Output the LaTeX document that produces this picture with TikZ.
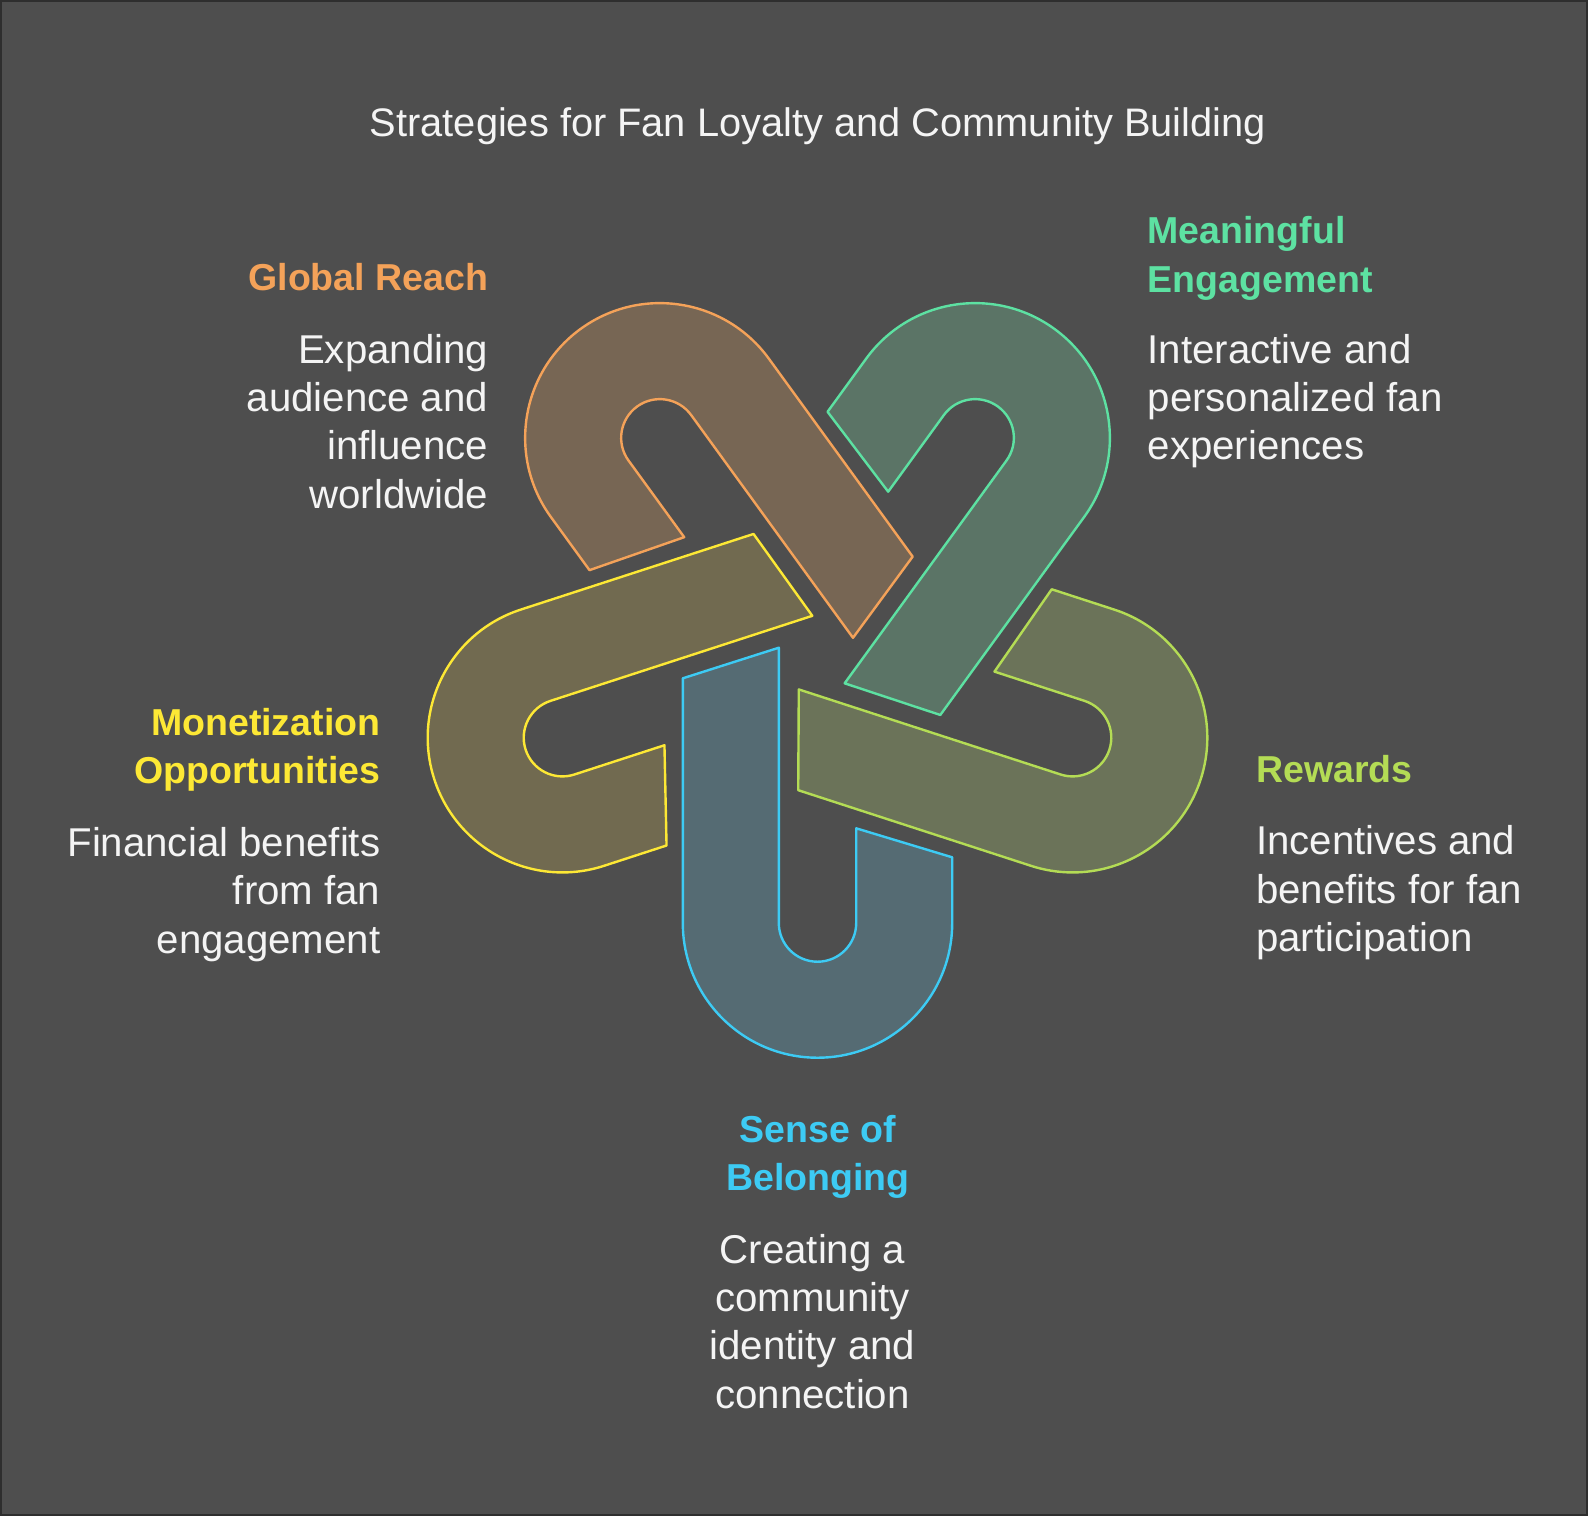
\documentclass[tikz,border=0pt]{standalone}
\usepackage{fontspec}
\setmainfont{Liberation Sans}
\usepackage{tikz}
\usetikzlibrary{positioning}

\definecolor{bgdark}{HTML}{4E4E4E}
\definecolor{frameline}{HTML}{2E2E2E}
\definecolor{fgtext}{HTML}{F4F4F4}
\definecolor{reachline}{HTML}{F4A259}
\definecolor{reachfill}{HTML}{776654}
\definecolor{engageline}{HTML}{5DE1A2}
\definecolor{engagefill}{HTML}{5B7466}
\definecolor{rewardline}{HTML}{B4DC55}
\definecolor{rewardfill}{HTML}{6B7359}
\definecolor{belongline}{HTML}{3DCBF4}
\definecolor{belongfill}{HTML}{556B73}
\definecolor{moneyline}{HTML}{FDE835}
\definecolor{moneyfill}{HTML}{716A50}

\begin{document}
\begin{tikzpicture}[
    x=0.5pt, y=0.5pt,
    hook/.style={line width=1.2pt, line join=round},
    title/.style={font=\fontsize{19.9pt}{24.15pt}\selectfont, text=fgtext, inner sep=0},
    head/.style={font=\fontsize{18.75pt}{24.15pt}\selectfont\bfseries, inner sep=0},
    blurb/.style={font=\fontsize{20.1pt}{24.15pt}\selectfont, text=fgtext, inner sep=0}
]
    % background
    \useasboundingbox (0,0) rectangle (1588,-1516);
    \fill[bgdark] (0,0) rectangle (1588,-1516);
    \draw[frameline, line width=1pt] (1,-1) rectangle (1587,-1515);

    \node[title, anchor=base] (title) at (817.8,-136) {Strategies for Fan Loyalty and Community Building};

    % five hooks round the hub
    \coordinate (hub) at (817.5,-654.8);
    \foreach \ang/\ln/\fl in {0/belongline/belongfill, -72/moneyline/moneyfill,
                              -144/reachline/reachfill, -216/engageline/engagefill,
                              -288/rewardline/rewardfill}{
        \draw[hook, draw=\ln, fill=\fl, shift={(hub)}, rotate=\ang]
            (-134.7,-23.5) -- (-134.7,-268.2)
            arc[start angle=180, end angle=360, radius=134.7]
            -- (134.7,-202.5) -- (38.7,-173.5) -- (38.7,-268.2)
            arc[start angle=0, end angle=-180, radius=38.7]
            -- (-38.7,7.1) -- cycle;
    }

    % labels
    \node[head, text=reachline, anchor=north east, align=right] (reachhead) at (488.5,-263) {Global Reach};
    \node[blurb, anchor=north east, align=right] (reachtext) at (488.5,-333.6) {Expanding\\audience and\\influence\\worldwide};

    \node[head, text=engageline, anchor=north west, align=left] (engagehead) at (1147.3,-216.3) {Meaningful\\Engagement};
    \node[blurb, anchor=north west, align=left] (engagetext) at (1147.3,-333.6) {Interactive and\\personalized fan\\experiences};

    \node[head, text=moneyline, anchor=north east, align=right] (moneyhead) at (380.7,-708) {Monetization\\Opportunities};
    \node[blurb, anchor=north east, align=right] (moneytext) at (380.7,-826.9) {Financial benefits\\from fan\\engagement};

    \node[head, text=rewardline, anchor=north west, align=left] (rewardhead) at (1255.7,-755.3) {Rewards};
    \node[blurb, anchor=north west, align=left] (rewardtext) at (1255.7,-825.2) {Incentives and\\benefits for fan\\participation};

    \node[head, text=belongline, anchor=north, align=center] (belonghead) at (818,-1115) {Sense of\\Belonging};
    \node[blurb, anchor=north, align=center] (belongtext) at (812.5,-1233.6) {Creating a\\community\\identity and\\connection};
\end{tikzpicture}
\end{document}
